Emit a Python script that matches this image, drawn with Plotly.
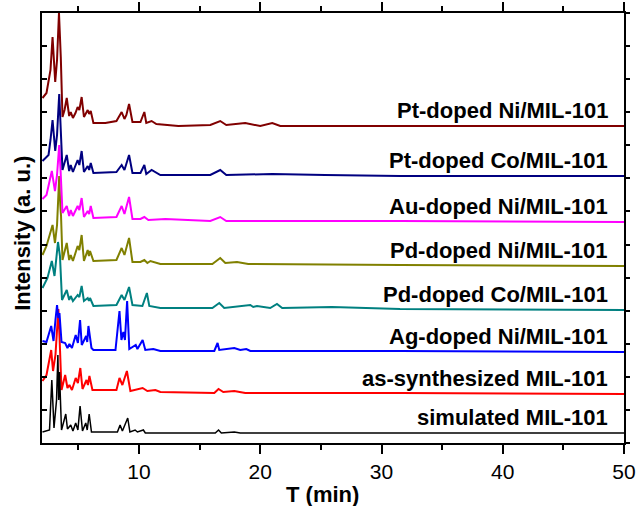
import plotly.graph_objects as go

# ---- data (T in min, intensity in a.u., stacked patterns) ----
sample_names = ["Pt-doped Ni/MIL-101", "Pt-doped Co/MIL-101", "Au-doped Ni/MIL-101",
                "Pd-doped Ni/MIL-101", "Pd-doped Co/MIL-101", "Ag-doped Ni/MIL-101",
                "as-synthesized MIL-101", "simulated MIL-101"]

T_pt_ni = [2.04, 2.37, 2.70, 2.87, 3.09, 3.24, 3.40, 3.48, 3.55, 3.69, 3.86, 4.04, 4.24, 4.37, 4.55, 4.76,
           4.94, 5.08, 5.27, 5.46, 5.67, 5.77, 5.89, 6.02, 6.24, 7.23, 8.14, 8.57, 8.80, 8.96, 9.18, 9.37,
           9.46, 10.12, 10.44, 10.60, 11.04, 11.43, 13.25, 15.88, 16.70, 17.2, 18.76, 20.0, 20.99, 21.65,
           25.77, 31.53, 36.47, 48.0, 50.0]
I_pt_ni = [345, 350, 373, 406, 361, 383, 430, 393, 386, 326, 333, 345, 327, 331, 325, 330,
           336, 333, 346, 326, 330, 333, 329, 332, 320, 320, 322, 331, 324, 328, 339, 328,
           321, 321, 331, 320, 322, 319, 317, 318, 322, 318, 320, 317, 320, 317,
           317, 317, 317, 317, 317]

T_pt_co = [2.04, 2.54, 2.70, 2.87, 3.09, 3.24, 3.42, 3.53, 3.69, 4.04, 4.24, 4.37, 4.55, 4.94, 5.08, 5.27,
           5.46, 5.77, 5.89, 6.02, 6.24, 8.14, 8.57, 8.80, 9.18, 9.46, 10.12, 10.44, 10.60, 11.04, 11.76,
           15.88, 16.70, 17.2, 20.99, 25.35, 31.53, 50.0]
I_pt_co = [282, 288, 303, 323, 292, 308, 349, 310, 273, 288, 272, 278, 271, 283, 278, 292,
           271, 277, 273, 280, 270, 271, 278, 273, 288, 270, 270, 278, 269, 273, 268,
           268, 273, 268, 269, 268, 267, 267]

T_au_ni = [2.04, 2.37, 2.81, 3.07, 3.24, 3.42, 3.53, 3.69, 4.04, 4.24, 4.37, 4.55, 4.94, 5.08, 5.27, 5.46,
           5.77, 5.89, 6.02, 6.24, 8.14, 8.57, 8.80, 9.18, 9.46, 10.12, 10.44, 10.77, 12.17, 15.88, 16.70,
           17.2, 31.53, 50.0]
I_au_ni = [244, 248, 272, 252, 268, 298, 273, 230, 237, 227, 233, 227, 237, 233, 245, 226,
           232, 229, 237, 225, 226, 237, 229, 246, 224, 224, 226, 223, 224, 222, 226,
           222, 222, 221]

T_pd_ni = [2.04, 2.37, 2.87, 3.07, 3.24, 3.42, 3.51, 3.57, 3.69, 4.04, 4.24, 4.37, 4.55, 4.94, 5.08, 5.27,
           5.46, 5.77, 5.87, 5.96, 6.24, 8.14, 8.57, 8.80, 9.18, 9.46, 10.12, 10.44, 10.69, 10.94, 11.76,
           16.05, 16.70, 17.12, 18.08, 19.01, 31.53, 50.0]
I_pd_ni = [188, 197, 218, 200, 218, 267, 238, 227, 183, 200, 183, 188, 182, 197, 193, 208,
           182, 193, 187, 192, 182, 183, 195, 188, 205, 181, 181, 183, 180, 182, 179,
           179, 185, 180, 181, 179, 178, 177]

T_pd_co = [2.04, 2.45, 2.81, 3.03, 3.32, 3.40, 3.48, 3.65, 4.04, 4.24, 4.37, 4.55, 4.94, 5.08, 5.27, 5.46,
           5.77, 5.87, 5.96, 6.24, 8.14, 8.57, 8.80, 9.18, 9.46, 10.28, 10.65, 10.85, 11.76, 16.05, 16.62,
           17.03, 19.18, 19.42, 19.73, 20.82, 21.38, 21.81, 25.91, 31.53, 50.0]
I_pd_co = [155, 165, 182, 167, 201, 193, 187, 143, 153, 143, 147, 142, 148, 146, 157, 142,
           145, 142, 145, 137, 138, 148, 143, 156, 138, 137, 150, 137, 135, 135, 140,
           135, 138, 136, 137, 135, 139, 135, 136, 134, 133]

T_ag_ni = [2.04, 2.37, 2.76, 2.95, 3.11, 3.24, 3.35, 3.44, 3.61, 3.91, 4.10, 4.26, 4.47, 4.78, 4.96, 5.14,
           5.28, 5.64, 5.73, 5.83, 6.08, 6.24, 8.06, 8.39, 8.55, 8.71, 8.84, 9.02, 9.20, 9.73, 9.87,
           10.30, 10.52, 11.18, 11.76, 16.21, 16.48, 16.62, 17.86, 18.35, 18.85, 19.18, 31.53, 50.0]
I_ag_ni = [102, 101, 117, 102, 123, 138, 125, 130, 101, 100, 95, 99, 95, 108, 100, 123,
           98, 107, 101, 117, 95, 93, 93, 132, 103, 111, 103, 142, 94, 98, 94,
           103, 93, 94, 92, 92, 100, 93, 95, 93, 94, 92, 92, 91]

T_as = [2.04, 2.37, 2.76, 2.91, 3.11, 3.35, 3.44, 3.61, 3.91, 4.10, 4.26, 4.47, 4.78, 4.96, 5.16, 5.34,
        5.67, 5.79, 5.91, 6.16, 8.14, 8.39, 8.63, 9.00, 9.29, 10.30, 10.69, 11.35, 11.76, 16.21, 16.56,
        16.95, 17.86, 18.76, 31.53, 50.0]
I_as = [62, 68, 93, 72, 88, 134, 108, 53, 68, 55, 58, 53, 65, 60, 75, 54,
        63, 58, 67, 53, 53, 65, 58, 72, 52, 55, 52, 53, 51, 50, 54,
        51, 52, 50, 50, 49]

T_sim = [2.04, 2.62, 2.81, 2.99, 3.20, 3.31, 3.38, 3.44, 3.61, 3.96, 4.10, 4.37, 4.55, 4.78, 4.96, 5.14,
         5.34, 5.61, 5.73, 5.89, 6.08, 8.22, 8.44, 8.63, 9.07, 9.25, 9.68, 9.87, 10.36, 10.52, 16.29,
         16.56, 16.79, 17.86, 18.35, 50.0]
I_sim = [11, 13, 63, 15, 43, 88, 43, 71, 13, 29, 14, 18, 12, 20, 13, 37,
         12, 20, 13, 29, 11, 11, 18, 12, 25, 11, 13, 11, 13, 10, 10,
         13, 10, 11, 10, 10]

x_tick_labels = ["10", "20", "30", "40", "50"]
x_tick_values = [10, 20, 30, 40, 50]

series_T = [T_pt_ni, T_pt_co, T_au_ni, T_pd_ni, T_pd_co, T_ag_ni, T_as, T_sim]
series_I = [I_pt_ni, I_pt_co, I_au_ni, I_pd_ni, I_pd_co, I_ag_ni, I_as, I_sim]

# ---- styles ----
colors = ["#800000", "#000080", "#FF00FF", "#808000", "#008080", "#0000FF", "#FF0000", "#000000"]
widths = [2, 2, 2, 2, 2, 2, 2, 1.5]
FONT = "Arial, Liberation Sans, Helvetica, sans-serif"

fig = go.Figure()
for i in reversed(range(len(sample_names))):
    fig.add_trace(go.Scatter(
        x=series_T[i], y=series_I[i], mode="lines",
        line=dict(color=colors[i], width=widths[i]),
        name=sample_names[i], showlegend=False,
        yaxis="y2" if i == len(sample_names) - 1 else "y",
    ))

for i, name in enumerate(sample_names):
    fig.add_annotation(
        x=48.85, y=series_I[i][-1] + 16, xref="x", yref="y",
        text="<b>%s</b>" % name, showarrow=False,
        xanchor="right", yanchor="middle",
        font=dict(family=FONT, size=22, color="black"),
    )

fig.add_annotation(
    x=(322 - 42) / 582, y=-0.12, xref="paper", yref="paper",
    text="<b>T (min)</b>", showarrow=False, xanchor="center", yanchor="middle",
    font=dict(family=FONT, size=22, color="black"),
)
fig.add_annotation(
    x=-0.034, y=0.487, xref="paper", yref="paper",
    text="<b>Intensity (a. u.)</b>", showarrow=False, textangle=-90,
    xanchor="center", yanchor="middle",
    font=dict(family=FONT, size=22, color="black"),
)

yr = [0, 430]
ydt = 430 / 13
fig.update_layout(
    width=638, height=506,
    margin=dict(l=42, r=14, t=13, b=63, autoexpand=False),
    paper_bgcolor="white", plot_bgcolor="white",
    xaxis=dict(
        range=[2, 50], tickvals=x_tick_values, ticktext=x_tick_labels,
        ticks="outside", ticklen=9, tickwidth=2, tickcolor="black",
        showline=True, linewidth=2, linecolor="black", mirror="ticks",
        showgrid=False, zeroline=False, automargin=False,
        tickfont=dict(family=FONT, size=21, color="black"),
        minor=dict(ticks="outside", ticklen=5, tickwidth=2, tickcolor="black",
                   tick0=0, dtick=5, showgrid=False),
    ),
    yaxis=dict(
        range=yr, tick0=0, dtick=ydt, ticks="inside", ticklen=5, tickwidth=1.5,
        tickcolor="black", showticklabels=False, automargin=False,
        showline=True, linewidth=2, linecolor="black", mirror=True,
        showgrid=False, zeroline=False,
    ),
    yaxis2=dict(
        range=yr, tick0=0, dtick=ydt, ticks="outside", ticklen=5, tickwidth=1.5,
        tickcolor="black", showticklabels=False, overlaying="y", side="right",
        showline=False, showgrid=False, zeroline=False, automargin=False,
    ),
)

fig.write_html("out.html")
